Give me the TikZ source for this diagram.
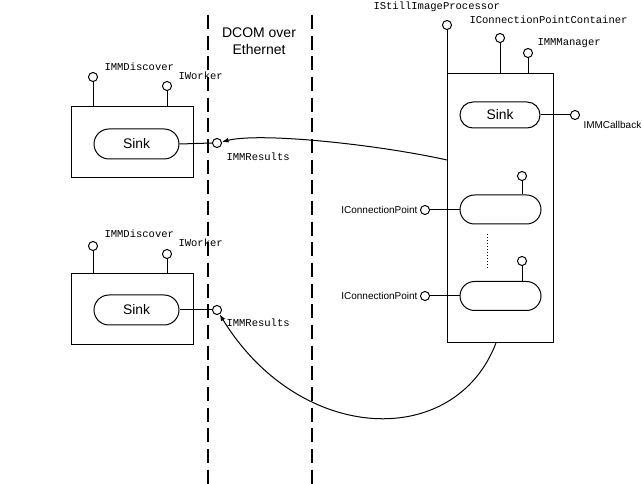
\documentclass[tikz,border=0pt]{standalone}
\usepackage{fontspec}
\setmainfont{Liberation Sans}
\newfontfamily\monof{Liberation Mono}
\usetikzlibrary{arrows.meta,shapes.misc}
\begin{document}
\begin{tikzpicture}[x=0.75pt,y=-0.75pt,line width=0.75pt,
  box/.style={draw,rectangle,inner sep=0pt},
  pill/.style={draw,rounded rectangle,inner sep=0pt,minimum height=22pt},
  port/.style={draw,circle,minimum size=6.8pt,inner sep=0pt},
  mono/.style={font=\monof\fontsize{7.9}{9}\selectfont,inner sep=0pt,anchor=west},
  small/.style={font=\fontsize{7.5}{9}\selectfont,inner sep=0pt},
  sinktext/.style={font=\fontsize{10.4}{12}\selectfont},
  dashline/.style={line width=1.5pt,dash pattern=on 10.5pt off 5pt},
  arr/.style={-{Latex[length=5pt,width=3.6pt]}}]
\useasboundingbox (0,0) rectangle (642,484);
% dashed separators
\coordinate (d1t) at (208,15); \coordinate (d1b) at (208,484);
\coordinate (d2t) at (312,15); \coordinate (d2b) at (312,484);
\draw[dashline] (d1t) -- (d1b);
\draw[dashline] (d2t) -- (d2b);
\node[align=center,font=\fontsize{10.5}{12.75}\selectfont,inner sep=0pt] (dcom) at (259,41) {DCOM over\\Ethernet};
% left box 1
\node[box,minimum width=91.5pt,minimum height=53.25pt] (box1) at (132,142.5) {};
\node[pill,minimum width=63.75pt,minimum height=22.5pt,sinktext] (sink1) at (136.5,144) {Sink};
\node[port] (res1) at (217,143) {};
\draw (sink1.east) -- (res1.west);
\node[port] (disc1) at (93,77) {};
\node[port] (work1) at (167,86) {};
\draw (disc1.south) -- (disc1.south |- box1.north);
\draw (work1.south) -- (work1.south |- box1.north);
\node[mono] (ldisc1) at (104,67) {IMMDiscover};
\node[mono] (lwork1) at (178,76) {IWorker};
\node[mono] (lres1) at (226,157) {IMMResults};
% left box 2
\node[box,minimum width=91.5pt,minimum height=53.25pt] (box2) at (132,309) {};
\node[pill,minimum width=63.75pt,minimum height=22.5pt,sinktext] (sink2) at (136.5,310) {Sink};
\node[port] (res2) at (217,310) {};
\draw (sink2.east) -- (res2.west);
\node[port] (disc2) at (93,246) {};
\node[port] (work2) at (167,254) {};
\draw (disc2.south) -- (disc2.south |- box2.north);
\draw (work2.south) -- (work2.south |- box2.north);
\node[mono] (ldisc2) at (104,234) {IMMDiscover};
\node[mono] (lwork2) at (178,243) {IWorker};
\node[mono] (lres2) at (226,323) {IMMResults};
% right box
\node[box,minimum width=79.5pt,minimum height=201.75pt] (rbox) at (500,208.5) {};
\node[port] (sip) at (447,25) {};
\node[port] (cpc) at (500,38) {};
\node[port] (mgr) at (528,53) {};
\draw (sip.south) -- (sip.south |- rbox.north);
\draw (cpc.south) -- (cpc.south |- rbox.north);
\draw (mgr.south) -- (mgr.south |- rbox.north);
\node[mono] (lsip) at (373,7) {IStillImageProcessor};
\node[mono] (lcpc) at (469,20) {IConnectionPointContainer};
\node[mono] (lmgr) at (537,43) {IMMManager};
\node[pill,minimum width=60pt,minimum height=19.5pt,sinktext] (rsink) at (500,115) {Sink};
\node[port] (cb) at (575,115) {};
\draw (rsink.east) -- (cb.west);
\node[small,anchor=west] (lcb) at (583,125) {IMMCallback};
% connection points
\node[pill,minimum width=60.75pt,minimum height=21.75pt] (cp1) at (500.5,209.5) {};
\node[port] (cpt1) at (522,176) {};
\draw (cpt1.south) -- (cpt1.south |- cp1.north);
\node[port] (cpl1) at (425,210) {};
\draw (cpl1.east) -- (cpl1.east -| cp1.west);
\node[small,anchor=east] (lcp1) at (418,210) {IConnectionPoint};
\node[pill,minimum width=60.75pt,minimum height=21.75pt] (cp2) at (500.5,296) {};
\node[port] (cpt2) at (522,261) {};
\draw (cpt2.south) -- (cpt2.south |- cp2.north);
\node[port] (cpl2) at (425,296) {};
\draw (cpl2.east) -- (cpl2.east -| cp2.west);
\node[small,anchor=east] (lcp2) at (418,296) {IConnectionPoint};
\coordinate (dot1) at (487,234); \coordinate (dot2) at (487,268);
\draw[dash pattern=on 0.75pt off 1.5pt] (dot1) -- (dot2);
% callback arrows
\coordinate (a1) at (447,160);
\draw[arr] (a1) .. controls (380,145) and (262,132) .. (res1);
\coordinate (a2) at (496,343);
\draw[arr] (a2) .. controls (455,450) and (300,445) .. (res2);
\end{tikzpicture}
\end{document}
